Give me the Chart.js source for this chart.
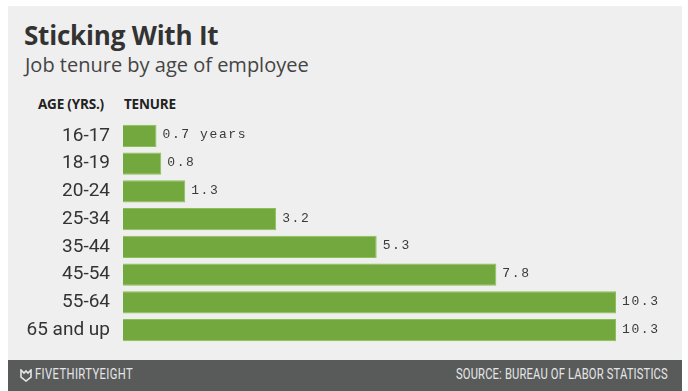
<!DOCTYPE html>
<html>
<head>
<meta charset="utf-8">
<script src="https://cdn.jsdelivr.net/npm/chart.js@4"></script>
<style>
  html, body { margin: 0; padding: 0; background: #fff; }
  body { width: 688px; height: 391px; position: relative; overflow: hidden; font-family: Roboto, "Noto Sans", sans-serif; }
  .panel { position: absolute; left: 8px; top: 6px; width: 674px; height: 354px; background: #efefef; }
  .footer { position: absolute; left: 8px; top: 360px; width: 674px; height: 31px; background: #595b5b; color: #e6e6e6;
            font-family: Roboto, sans-serif; font-size: 14px; letter-spacing: 0.5px; }
  .footer span { position: absolute; top: 6px; transform: scaleX(0.8); white-space: nowrap; }
  .title { position: absolute; left: 24px; top: 17px; font-family: "Open Sans", sans-serif; font-size: 26px; font-weight: bold; color: #333; letter-spacing: -0.2px; }
  .subtitle { position: absolute; left: 25px; top: 51px; font-family: "Open Sans", sans-serif; font-size: 20px; color: #444; }
  .head { position: absolute; top: 95px; font-family: "Open Sans", sans-serif; font-size: 13.5px; font-weight: bold; color: #222; letter-spacing: -0.2px; }
  #chart { position: absolute; left: 8px; top: 122px; }
</style>
</head>
<body>
<div class="panel"></div>
<div class="title">Sticking With It</div>
<div class="subtitle">Job tenure by age of employee</div>
<div class="head" style="left:38px">AGE (YRS.)</div>
<div class="head" style="left:124px">TENURE</div>
<canvas id="chart" width="674" height="222"></canvas>
<div class="footer">
  <svg style="position:absolute;left:12px;top:9px" width="12" height="13" viewBox="0 0 12 13">
    <path d="M1 1 L4 4 L6 2 L8 4 L11 1 L11 8 L6 12 L1 8 Z" fill="none" stroke="#e6e6e6" stroke-width="1.6"/>
  </svg>
  <span style="left:27px;transform-origin:left center">FIVETHIRTYEIGHT</span>
  <span style="right:14px;transform-origin:right center;letter-spacing:0.2px">SOURCE: BUREAU OF LABOR STATISTICS</span>
</div>
<script>
const ageGroups = ['16-17', '18-19', '20-24', '25-34', '35-44', '45-54', '55-64', '65 and up'];
const tenureYears = [0.7, 0.8, 1.3, 3.2, 5.3, 7.8, 10.3, 10.3];
const valueLabels = ['0.7 years', '0.8', '1.3', '3.2', '5.3', '7.8', '10.3', '10.3'];

// draws the value text just right of each bar
const valueLabelPlugin = {
  id: 'valueLabels',
  afterDatasetsDraw(chart) {
    const ctx = chart.ctx;
    const meta = chart.getDatasetMeta(0);
    ctx.save();
    ctx.font = '13px "Liberation Mono", "DejaVu Sans Mono", monospace';
    ctx.letterSpacing = '1.6px';
    ctx.fillStyle = '#3a3a3a';
    ctx.textBaseline = 'middle';
    meta.data.forEach((bar, i) => {
      ctx.fillText(valueLabels[i], bar.x + 6, bar.y - 1);
    });
    ctx.restore();
  }
};

new Chart(document.getElementById('chart'), {
  type: 'bar',
  data: {
    labels: ageGroups,
    datasets: [{
      data: tenureYears,
      backgroundColor: '#73a83f',
      borderColor: '#8cc152',
      borderWidth: 1,
      barPercentage: 0.8,
      categoryPercentage: 1
    }]
  },
  options: {
    indexAxis: 'y',
    responsive: false,
    animation: false,
    layout: { autoPadding: false, padding: { left: 0, right: 66, top: 0, bottom: 0 } },
    plugins: {
      legend: { display: false },
      tooltip: { enabled: false }
    },
    scales: {
      x: {
        display: false,
        min: 0,
        max: 10.3
      },
      y: {
        afterFit(scale) {
          scale.width = 115;
          // tick padding gets added above/below too, drop it
          scale.paddingTop = 0;
          scale.paddingBottom = 0;
        },
        grid: { display: false, drawTicks: false },
        border: { display: false },
        ticks: {
          color: '#333',
          padding: 13,
          font: { family: 'Roboto, "Noto Sans", sans-serif', size: 19, weight: '400' }
        }
      }
    }
  },
  plugins: [valueLabelPlugin]
});
</script>
</body>
</html>
